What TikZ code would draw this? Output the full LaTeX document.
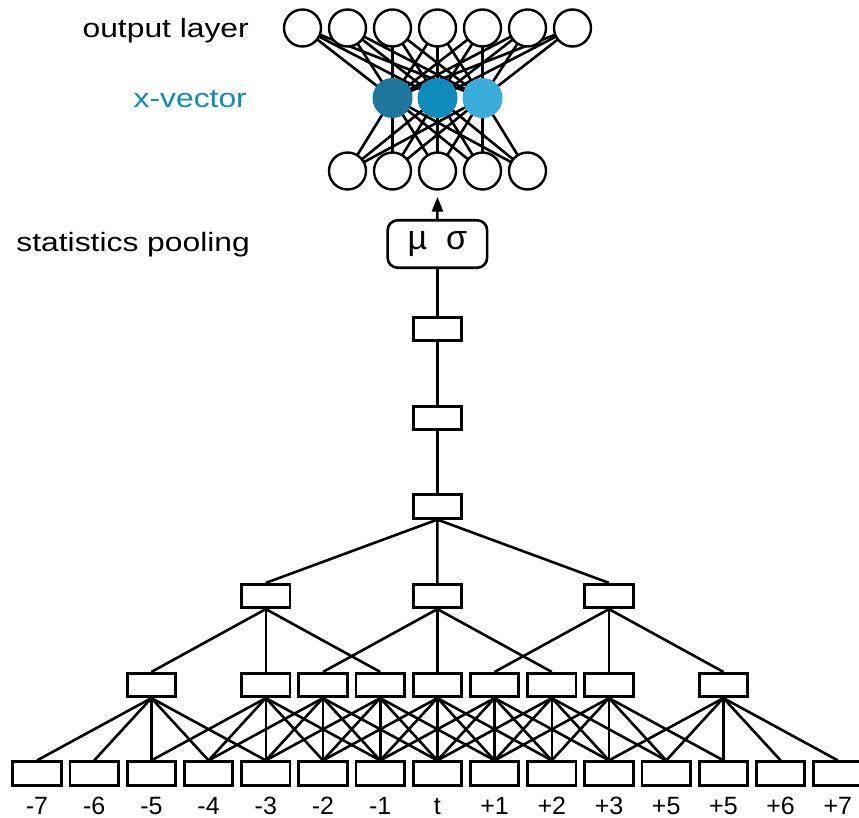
\documentclass[tikz,border=0pt]{standalone}
\usepackage{graphicx}
\usepackage{fontspec}
\setmainfont{Liberation Sans}
\usetikzlibrary{arrows.meta,backgrounds}

\definecolor{xvdark}{RGB}{31,118,157}
\definecolor{xvmid}{RGB}{16,139,190}
\definecolor{xvlight}{RGB}{58,172,218}
\definecolor{xvtext}{RGB}{14,138,192}

\begin{document}
\begin{tikzpicture}[x=1pt,y=-1pt,
  frame/.style={draw=black, line width=2.8pt, fill=white,
    minimum width=48.4pt, minimum height=23.4pt, inner sep=0pt},
  pool/.style={draw=black, line width=2.6pt, fill=white, rounded corners=10pt,
    minimum width=99.5pt, minimum height=47.5pt, inner sep=0pt,
    font=\fontsize{34}{36}\selectfont},
  unit/.style={circle, draw=black, line width=2.4pt, fill=white,
    minimum size=37pt, inner sep=0pt},
  emb/.style={circle, minimum size=40pt, inner sep=0pt},
  link/.style={line width=2.6pt},
  ticklabel/.style={inner sep=0pt, anchor=base, font=\fontsize{25}{28}\selectfont},
  sidelabel/.style={inner sep=0pt, anchor=base east, font=\fontsize{26.5}{30}\selectfont},
]
\useasboundingbox (0,0) rectangle (859,817);

% ---------- TDNN frame layers ----------
% input frames
\foreach \lab [count=\i from 0] in {-7,-6,-5,-4,-3,-2,-1,t,+1,+2,+3,+5,+5,+6,+7} {
  \node[frame] (b\i) at ({37+57.2*\i},773.5) {};
  \node[ticklabel] (bl\i) at ({37+57.2*\i},814.5) {\lab};
}
% second layer: context [-2,+2]
\foreach \c in {2,4,5,6,7,8,9,10,12} {
  \node[frame] (m\c) at ({37+57.2*\c},685) {};
  \foreach \d in {-2,...,2} {
    \pgfmathtruncatemacro\src{\c+\d}
    \draw[link] (m\c.south) -- (b\src.north);
  }
}
% third layer: context {-2,0,+2}
\foreach \c in {4,7,10} {
  \node[frame] (s\c) at ({37+57.2*\c},596) {};
  \foreach \d in {-2,0,2} {
    \pgfmathtruncatemacro\src{\c+\d}
    \draw[link] (s\c.south) -- (m\src.north);
  }
}
% fourth layer: context {-3,0,+3}
\node[frame] (p) at (437.4,506.5) {};
\foreach \c in {4,7,10} \draw[link] (p.south) -- (s\c.north);
% frame-level layers
\node[frame] (q) at (437.4,418) {};
\node[frame] (r) at (437.4,329) {};
\draw[link] (q.south) -- (p.north);
\draw[link] (r.south) -- (q.north);

% ---------- statistics pooling ----------
\node[pool] (stat) at (437.4,244) {µ\hspace{19pt}σ};
\draw[link] (stat.south) -- (r.north);

% ---------- segment-level layers ----------
\foreach \k in {1,...,5} \node[unit] (h\k) at ({347.5+45*(\k-1)},171) {};
\node[emb, fill=xvdark]  (e1) at (392.5,98) {};
\node[emb, fill=xvmid]   (e2) at (437.5,98) {};
\node[emb, fill=xvlight] (e3) at (482.5,98) {};
\foreach \k in {1,...,7} \node[unit] (o\k) at ({302.5+45*(\k-1)},28) {};

\draw[link, -{Triangle[length=15pt,width=11pt]}, shorten >=6pt] (stat.north) -- (h3.south);

\begin{scope}[on background layer]
  \fill[white] (0,0) rectangle (859,817);
  \foreach \k in {1,...,7} \foreach \j in {1,2,3}
    \draw[link] (o\k.center) -- (e\j.center);
  \foreach \k in {1,...,5} \foreach \j in {1,2,3}
    \draw[link] (h\k.center) -- (e\j.center);
\end{scope}

% ---------- side labels ----------
\node[sidelabel] (lout) at (249,37) {\scalebox{1.2}[1]{output layer}};
\node[sidelabel, text=xvtext] (lxv) at (247,107) {\scalebox{1.2}[1]{x-vector}};
\node[sidelabel] (lpool) at (250,251) {\scalebox{1.2}[1]{statistics pooling}};
\end{tikzpicture}
\end{document}
